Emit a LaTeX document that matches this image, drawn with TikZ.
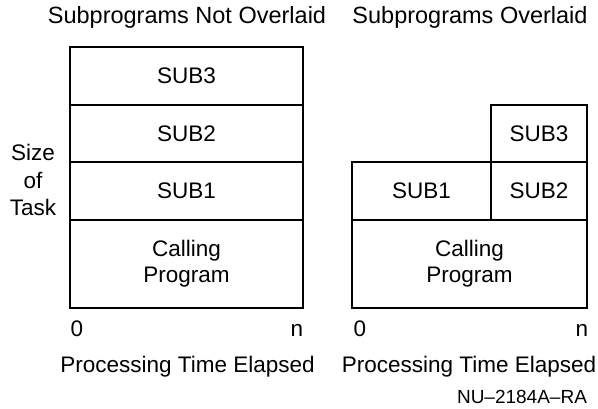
\documentclass[tikz,border=0pt]{standalone}
\usepackage{fontspec}
\setmainfont{Liberation Sans}
\usetikzlibrary{positioning}

\begin{document}
\begin{tikzpicture}[x=1pt, y=-1pt, line width=1.6pt,
                    blk/.style={draw,rectangle,inner sep=0pt,outer sep=0pt,align=center,
                                font=\fontsize{22.5}{26}\selectfont},
                    lbl/.style={inner sep=0pt,align=center,font=\fontsize{22.5}{27.5}\selectfont},
                    tick/.style={lbl,anchor=base}]
\useasboundingbox (0,0) rectangle (598,409);

% not overlaid
\node[blk, minimum width=233pt, minimum height=88pt, anchor=north west] (callA) at (70,220) {Calling\\Program};
\node[blk, minimum width=233pt, minimum height=58pt] (subAi) [above=0pt of callA] {SUB1};
\node[blk, minimum width=233pt, minimum height=57pt] (subAii) [above=0pt of subAi] {SUB2};
\node[blk, minimum width=233pt, minimum height=58pt] (subAiii) [above=0pt of subAii] {SUB3};

% overlaid
\node[blk, minimum width=235pt, minimum height=88pt, anchor=north west] (callB) at (352,220) {Calling\\Program};
\node[blk, minimum width=139pt, minimum height=58pt, anchor=south west] (subBi) at (callB.north west) {SUB1};
\node[blk, minimum width=96pt, minimum height=58pt, anchor=south east] (subBii) at (callB.north east) {SUB2};
\node[blk, minimum width=96pt, minimum height=57pt] (subBiii) [above=0pt of subBii] {SUB3};

% labels
\node[lbl, font=\fontsize{23.5}{27.5}\selectfont] (titleA) at (187,17) {Subprograms Not Overlaid};
\node[lbl, font=\fontsize{23.5}{27.5}\selectfont] (titleB) at (470,17) {Subprograms Overlaid};
\node[lbl] (size) at (33,180) {Size\\of\\Task};
\node[tick] (zeroA) at (77,337) {0};
\node[tick] (nA) at (297,337) {n};
\node[tick] (zeroB) at (360,337) {0};
\node[tick] (nB) at (582,337) {n};
\node[lbl] (timeA) at (187.5,367) {Processing Time Elapsed};
\node[lbl] (timeB) at (469,367) {Processing Time Elapsed};
\node[lbl, font=\fontsize{19}{22}\selectfont] (code) at (522,397) {NU--2184A--RA};
\end{tikzpicture}
\end{document}
